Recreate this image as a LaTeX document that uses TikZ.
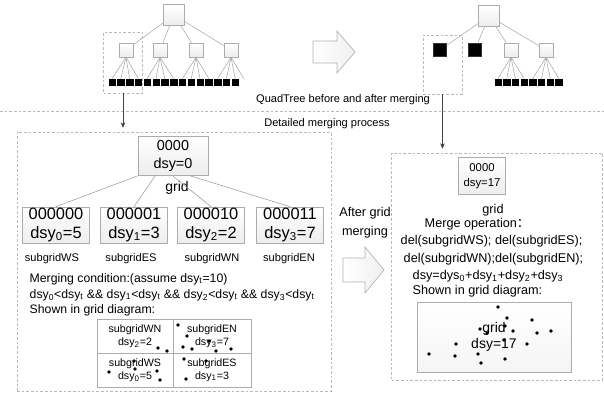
\documentclass[tikz,border=0pt]{standalone}
\usepackage{fontspec}
\setmainfont{Liberation Sans}
\newfontfamily\cjkf{Noto Sans CJK SC}
\usetikzlibrary{arrows.meta,shadows}
\begin{document}
\begin{tikzpicture}[x=0.75pt,y=-0.75pt,
  gbox/.style={draw=gray!65, top color=white, bottom color=gray!14, inner sep=0, line width=0.5pt,
    drop shadow={opacity=0.18, shadow xshift=0.7pt, shadow yshift=-0.7pt}},
  leaf/.style={fill=black, draw=black, minimum size=4.8pt, inner sep=0},
  bleaf/.style={fill=black, draw=black!80, minimum size=9.75pt, inner sep=0},
  tline/.style={draw=gray!70, line width=0.4pt},
  dline/.style={draw=gray!55, line width=0.5pt, dash pattern=on 2pt off 1.5pt},
  dbox/.style={dline, inner sep=0},
  harrow/.style={draw=gray!60, line width=0.5pt, left color=white, right color=gray!12},
  darrow/.style={draw=black!75, line width=0.5pt, -{Stealth[length=4pt,width=3.5pt]}},
  big/.style={font=\fontsize{12.3}{14}\selectfont, align=center},
  mid/.style={font=\fontsize{9.5}{11}\selectfont},
  lmid/.style={font=\fontsize{9.2}{11}\selectfont},
  small/.style={font=\fontsize{8.3}{9.5}\selectfont, align=center},
  cell/.style={draw=gray!65, inner sep=0, minimum height=25.5pt, align=center, font=\fontsize{8}{9.5}\selectfont}
]
\useasboundingbox (0,0) rectangle (604,395);

% ---------------- top: QuadTree before ----------------
\node[gbox, minimum size=15.75pt] (r1) at (174,15) {};
\foreach \x [count=\i] in {126,160,196,231}
  \node[gbox, minimum size=10.5pt] (b\i) at (\x,50) {};
\foreach \i in {1,...,4} \draw[tline] (r1) -- (b\i);
\foreach \i in {0,...,14}
  \node[leaf] (lf\i) at ({112+8.8*\i},82) {};
\coordinate (lf15) at ({112+8.8*15},79);
\foreach \i in {0,...,15}{
  \pgfmathtruncatemacro{\g}{int(\i/4)+1}
  \draw[tline] (b\g.south) -- (lf\i.north);
}
\node[dbox, minimum width=29.25pt, minimum height=45.75pt] (bd) at (123,62.5) {};

% ---------------- top arrow ----------------
\draw[harrow] (313,41) -- (337,41) -- (337,31) -- (355,52) -- (337,73) -- (337,63) -- (313,63) -- cycle;

% ---------------- top: QuadTree after ----------------
\node[gbox, minimum size=15.75pt] (r2) at (489,16) {};
\node[bleaf] (k1) at (440,50) {};
\node[bleaf] (k2) at (475,50) {};
\node[gbox, minimum size=10.5pt] (w1) at (511,50) {};
\node[gbox, minimum size=10.5pt] (w2) at (546,50) {};
\foreach \n in {k1,k2,w1,w2} \draw[tline] (r2) -- (\n);
\foreach \i in {0,...,7}
  \node[leaf] (al\i) at ({498+8.7*\i},82) {};
\foreach \i in {0,...,3} \draw[tline] (w1.south) -- (al\i.north);
\foreach \i in {4,...,7} \draw[tline] (w2.south) -- (al\i.north);
\node[dbox, minimum width=29.25pt, minimum height=44.25pt] (ad) at (442.5,64.5) {};

\node[small] (cap1) at (343,100) {QuadTree before and after merging};
\coordinate (hl) at (0,111);
\coordinate (hr) at (604,111);
\draw[dline] (hl) -- (hr);
\node[small] (cap2) at (327,124) {Detailed merging process};

% ---------------- left detail ----------------
\node[dbox, minimum width=235.5pt, minimum height=194.25pt] (ld) at (174,261.5) {};
\draw[darrow, shorten >=3pt] (bd.south) -- (bd.south |- ld.north);

\node[gbox, minimum width=52.5pt, minimum height=29.25pt, align=center, font=\fontsize{10.8}{13}\selectfont] (g0) at (173,156) {0000\\dsy=0};
\node[font=\fontsize{10.5}{12}\selectfont] (gl) at (177,188) {grid};
\foreach \x/\code/\k/\v [count=\i] in {56/000000/0/5, 134/000001/1/3, 211/000010/2/2, 290/000011/3/7}{
  \node[gbox, minimum width=50.25pt, minimum height=27pt, big] (c\i) at (\x,225) {\code\\dsy\textsubscript{\k}=\v};
  \draw[tline, draw=gray!80] (g0.south west) ++ ({(\i-1)*17.5},0) -- (c\i.north);
}
\foreach \x/\t [count=\i] in {52/subgridWS, 131/subgridES, 212/subgridWN, 289/subgridEN}
  \node[small] (s\i) at (\x,259) {\t};

\node[lmid, anchor=west] (mc) at (25,279) {Merging condition:(assume dsy\textsubscript{t}=10)};
\node[lmid, anchor=west] (mc2) at (25,295) {dsy\textsubscript{0}<dsy\textsubscript{t} \&\& dsy\textsubscript{1}<dsy\textsubscript{t} \&\& dsy\textsubscript{2}<dsy\textsubscript{t} \&\& dsy\textsubscript{3}<dsy\textsubscript{t}};
\node[lmid, anchor=west] (mc3) at (25,310) {Shown in grid diagram:};

% grid diagram
\node[cell, minimum width=57pt] (wn) at (135,336) {subgridWN\\dsy\textsubscript{2}=2};
\node[cell, minimum width=58.5pt] (en) at (212,336) {subgridEN\\dsy\textsubscript{3}=7};
\node[cell, minimum width=57pt] (ws) at (135,370) {subgridWS\\dsy\textsubscript{0}=5};
\node[cell, minimum width=58.5pt] (es) at (212,370) {subgridES\\dsy\textsubscript{1}=3};
\foreach \p in {(158,348),(167,351),
  (178,325),(187,336),(183,347),(192,349),(209,341),(216,351),(231,349),
  (109,372),(134,361),(135,369),(157,371),(160,380),
  (184,359),(206,361),(186,379)}
  \fill \p circle (1.9);

% ---------------- middle arrow ----------------
\node[align=center, font=\fontsize{9.5}{14}\selectfont] (ag) at (365,223) {After grid\\merging};
\draw[harrow] (343,258) -- (365,258) -- (365,247) -- (384,270) -- (365,293) -- (365,282) -- (343,282) -- cycle;

% ---------------- right detail ----------------
\node[dbox, minimum width=158.25pt, minimum height=170.25pt] (rd) at (497,266.5) {};
\draw[darrow, shorten >=3pt] (ad.south) -- (ad.south |- rd.north);
\node[gbox, minimum width=35.25pt, minimum height=27.75pt, align=center, font=\fontsize{8.5}{11}\selectfont] (m0) at (482,176) {0000\\dsy=17};
\node[mid] (ml) at (493,210) {grid};
\node[mid, anchor=west] (mo) at (420,224) {Merge operation{\cjkf ：}};
\node[mid, anchor=west] (d1) at (396,241) {del(subgridWS); del(subgridES);};
\node[mid, anchor=west] (d2) at (399,259) {del(subgridWN);del(subgridEN);};
\node[mid, anchor=west] (d3) at (408,276) {dsy=dys\textsubscript{0}+dsy\textsubscript{1}+dsy\textsubscript{2}+dsy\textsubscript{3}};
\node[mid, anchor=west] (d4) at (408,291) {Shown in grid diagram:};
\node[draw=gray!65, minimum width=115.5pt, minimum height=52.5pt, inner sep=0, align=center,
  font=\fontsize{10.5}{12.5}\selectfont, top color=white, bottom color=gray!8,
  drop shadow={opacity=0.18, shadow xshift=0.7pt, shadow yshift=-0.7pt}] (mg) at (494,337) {grid\\dsy=17};
\foreach \p in {(498,307),(507,318),(532,320),(480,329),(487,333),(505,326),(513,331),(537,333),(551,331),
  (456,344),(504,340),(527,344),(429,354),(455,356),(478,354),(481,363),(505,359)}
  \fill \p circle (1.9);
\end{tikzpicture}
\end{document}
